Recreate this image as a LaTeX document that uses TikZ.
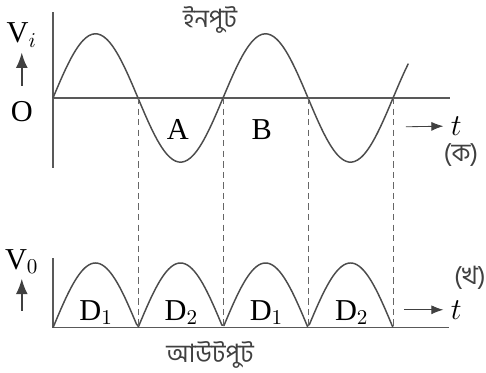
\documentclass[tikz,border=0pt]{standalone}
\usepackage{fontspec}
\setmainfont{Liberation Serif}
\newfontfamily\bnfont[Script=Bengali]{Hind Siliguri}
\usetikzlibrary{arrows.meta}

\begin{document}
\begin{tikzpicture}[every node/.style={font=\Large}, >={Latex[length=2mm]},
	axis/.style={draw=black!65, line width=0.6pt},
	wave/.style={draw=black!70, line width=0.7pt},
	guide/.style={draw=black!60, dashed, dash pattern=on 3pt off 2pt, line width=0.4pt},
	uparrow/.style={-{Latex[length=2.6mm, width=2mm]}, line width=1pt, black!75},
	bn/.style={font=\bnfont\large, text=black!75}]
	\useasboundingbox (-0.883,-4.583) rectangle (7.217,1.633);
	% input
	\coordinate (o1) at (0,0);
	\coordinate (t1) at (0,1.43);
	\coordinate (b1) at (0,-1.17);
	\coordinate (e1) at (6.62,0);
	\draw[axis] (t1) -- (b1);
	\draw[axis] (o1) -- (e1);
	\draw[wave] plot[domain=0:4.18, samples=120, smooth] ({\x*1.417}, {1.07*sin(\x*180)});
	\node (vi) at (-0.52,1.05) {V$_i$};
	\node (O) at (-0.52,-0.23) {O};
	\draw[uparrow] (-0.52,0.2) -- (-0.52,0.76);
	\node[bn] (in) at (2.62,1.3) {ইনপুট};
	\node (A) at (2.08,-0.53) {A};
	\node (B) at (3.48,-0.53) {B};
	\node (t) at (6.72,-0.47) {$t$};
	\draw[->, black!75] (5.88,-0.48) -- (t.west);
	\node[bn] (ka) at (6.8,-0.95) {(ক)};
	% output
	\coordinate (o2) at (0,-3.83);
	\coordinate (t2) at (0,-2.67);
	\coordinate (e2) at (6.6,-3.83);
	\draw[axis] (t2) -- (o2) -- (e2);
	\draw[wave] plot[domain=0:4, samples=160] ({\x*1.417}, {-3.83+1.08*abs(sin(\x*180))});
	\node (vo) at (-0.52,-2.73) {V$_0$};
	\draw[uparrow] (-0.52,-3.55) -- (-0.52,-3.01);
	\node (d1) at (0.72,-3.58) {D$_1$};
	\node (d2) at (2.14,-3.58) {D$_2$};
	\node (d3) at (3.56,-3.58) {D$_1$};
	\node (d4) at (4.98,-3.58) {D$_2$};
	\node (t') at (6.72,-3.53) {$t$};
	\draw[->, black!75] (5.85,-3.53) -- (t'.west);
	\node[bn] (kha) at (6.95,-3.0) {(খ)};
	\node[bn] (out) at (2.62,-4.28) {আউটপুট};
	% dashed guides
	\foreach \k in {1,2,3,4} {
		\coordinate (c\k) at (\k*1.417,0);
		\coordinate (z\k) at (\k*1.417,-3.83);
		\draw[guide] (c\k) -- (z\k);
	}
\end{tikzpicture}
\end{document}
